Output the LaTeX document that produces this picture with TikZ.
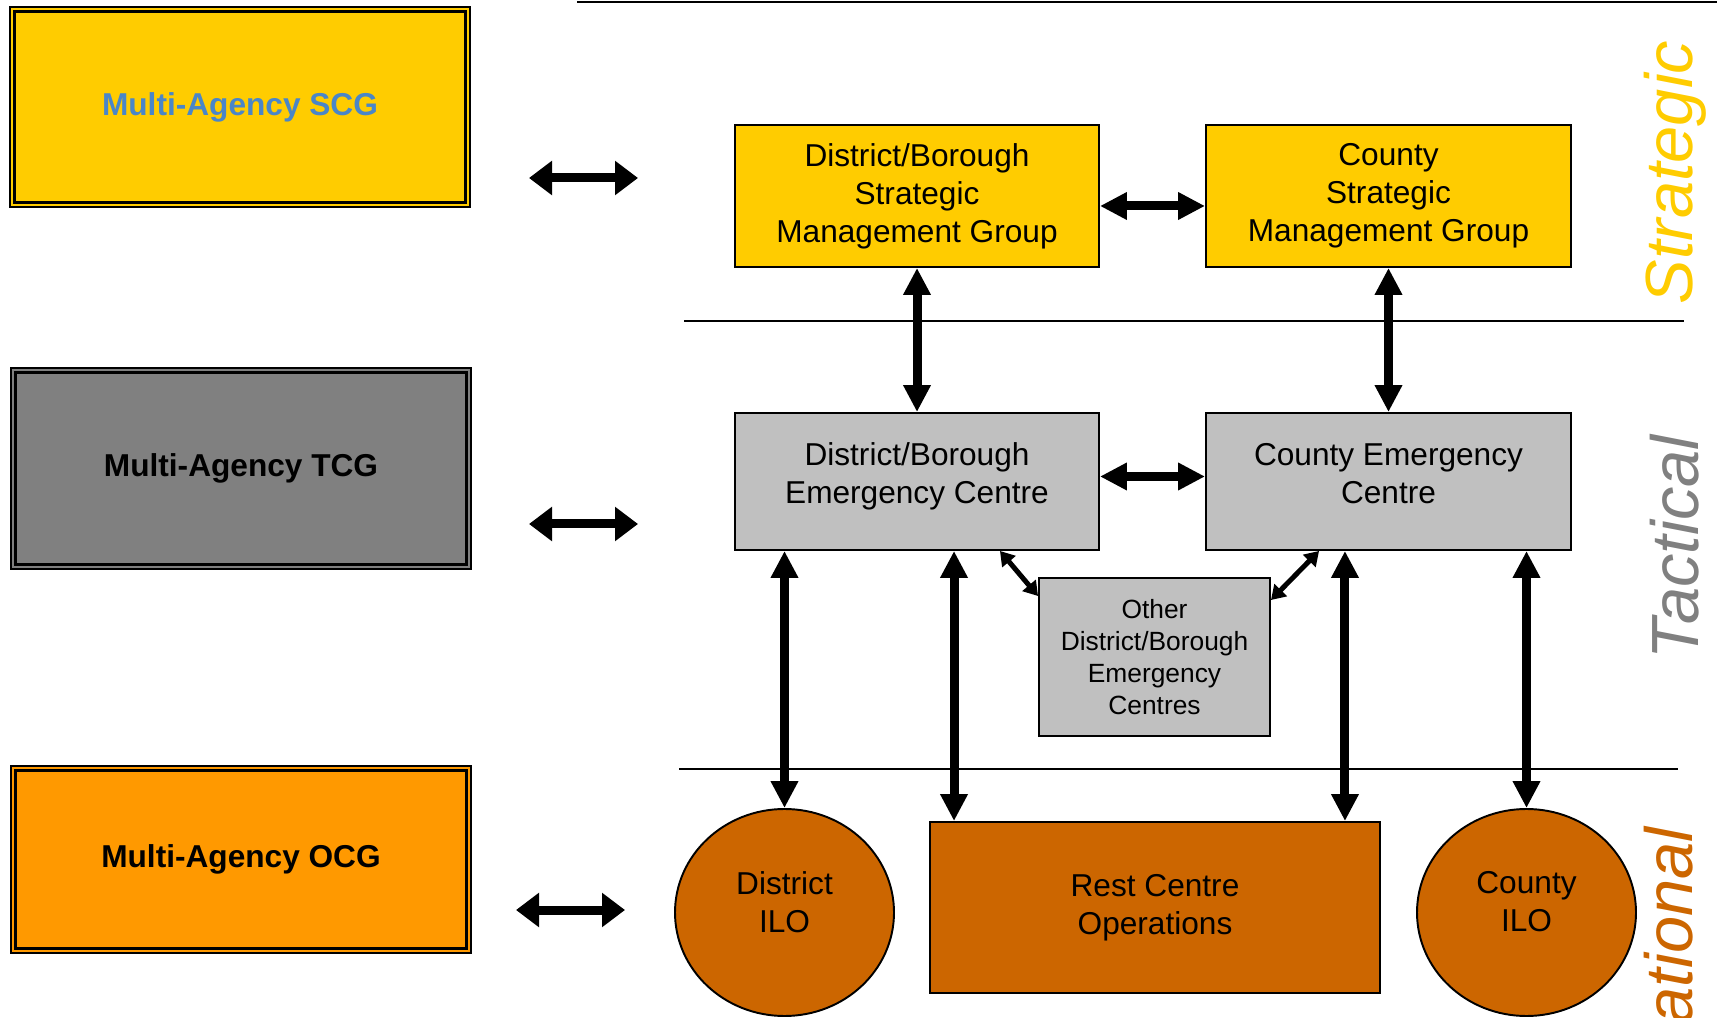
\documentclass[tikz,border=0pt]{standalone}
\usepackage{fontspec}
\setmainfont{Liberation Sans}
\usetikzlibrary{arrows.meta,shapes.geometric}
\definecolor{stratyellow}{HTML}{FFCC00}
\definecolor{scgblue}{HTML}{4A86C8}
\definecolor{tacgray}{HTML}{808080}
\definecolor{tacsilver}{HTML}{C0C0C0}
\definecolor{ocgorange}{HTML}{FF9900}
\definecolor{opsbrown}{HTML}{CC6600}
\begin{document}
\begin{tikzpicture}[x=0.2mm,y=-0.2mm,
        tier/.style={rectangle,draw=black,line width=0.9pt,inner sep=0pt,
          minimum width=92mm,font=\fontsize{18}{21.6}\selectfont\bfseries},
        box/.style={rectangle,draw=black,line width=1.1pt,inner sep=0pt,
          align=center,font=\fontsize{18}{21.6}\selectfont},
        ilo/.style={ellipse,draw=black,line width=1.1pt,fill=opsbrown,inner sep=0pt,
          minimum width=43.8mm,minimum height=41.4mm,align=center,text depth=4.3mm,
          font=\fontsize{18}{21.6}\selectfont},
        level/.style={rotate=90,inner sep=0pt,font=\fontsize{38}{40}\selectfont\itshape},
        sidearrow/.style={{Triangle[length=4.6mm,width=6.6mm]}-{Triangle[length=4.6mm,width=6.6mm]},
          line width=1.8mm},
        link/.style={{Triangle[length=5.4mm,width=5.2mm]}-{Triangle[length=5.4mm,width=5.2mm]},
          line width=1.8mm},
        small/.style={{Triangle[length=2.8mm,width=3.4mm]}-{Triangle[length=2.8mm,width=3.4mm]},
          line width=1mm}]
      \path[use as bounding box,clip] (0,0) rectangle (1717,1018);
      \draw[line width=1.1pt] (577,2) -- (1717,2);
      \draw[line width=1.1pt] (684,321) -- (1684,321);
      \draw[line width=1.1pt] (679,769) -- (1678,769);
      \node (scg) at (240,107) [tier,fill=stratyellow,minimum height=40mm,text=scgblue] {Multi-Agency SCG};
      \node (tcg) at (241,468.5) [tier,fill=tacgray,minimum height=40.2mm] {Multi-Agency TCG};
      \node (ocg) at (241,859.5) [tier,fill=ocgorange,minimum height=37.4mm] {Multi-Agency OCG};
      \foreach \n in {scg,tcg,ocg}
        \draw[line width=1.9pt] ([shift={(1mm,-1mm)}]\n.north west) rectangle ([shift={(-1mm,1mm)}]\n.south east);
      \coordinate (scgA) at (529,178);
      \coordinate (scgB) at (638,178);
      \coordinate (tcgA) at (529,524);
      \coordinate (tcgB) at (638,524);
      \coordinate (ocgA) at (516,910);
      \coordinate (ocgB) at (625,910);
      \draw (scgA) edge[sidearrow] (scgB);
      \draw (tcgA) edge[sidearrow] (tcgB);
      \draw (ocgA) edge[sidearrow] (ocgB);
      \node (dbsmg) at (917,196) [box,fill=stratyellow,minimum width=72.8mm,minimum height=28.4mm] {District/Borough\\Strategic\\Management Group};
      \node (csmg) at (1388.5,196) [box,fill=stratyellow,minimum width=73mm,minimum height=28.4mm] {County\\Strategic\\Management Group};
      \node (dbec) at (917,481.5) [box,fill=tacsilver,minimum width=72.8mm,minimum height=27.4mm,text depth=3.2mm] {District/Borough\\Emergency Centre};
      \node (cec) at (1388.5,481.5) [box,fill=tacsilver,minimum width=73mm,minimum height=27.4mm,text depth=3.2mm] {County Emergency\\Centre};
      \node (odbec) at (1154.5,657) [box,fill=tacsilver,minimum width=46.2mm,minimum height=31.6mm,
        font=\fontsize{15}{18.2}\selectfont] {Other\\District/Borough\\Emergency\\Centres};
      \node (dilo) at (784.5,912.5) [ilo] {District\\ILO};
      \node (rco) at (1155,907.5) [box,fill=opsbrown,minimum width=90mm,minimum height=34.2mm] {Rest Centre\\Operations};
      \node (cilo) at (1526.5,912.5) [ilo] {County\\ILO};
      \coordinate (rcoL) at ([xshift=5mm]rco.north west);
      \coordinate (rcoR) at ([xshift=-7.2mm]rco.north east);
      \draw ([yshift=-2mm]dbsmg.east) edge[link] ([yshift=-2mm]csmg.west);
      \draw ([yshift=1mm]dbec.east) edge[link] ([yshift=1mm]cec.west);
      \draw (dbsmg) edge[link] (dbec);
      \draw (csmg) edge[link] (cec);
      \draw (dilo.north |- dbec.south) edge[link] (dilo.north);
      \draw (rcoL |- dbec.south) edge[link] (rcoL);
      \draw (rcoR |- cec.south) edge[link] (rcoR);
      \draw (cilo.north |- cec.south) edge[link] (cilo.north);
      \draw ([xshift=-20mm]dbec.south east) edge[small] ([yshift=-3.8mm]odbec.north west);
      \draw ([xshift=22.8mm]cec.south west) edge[small] ([yshift=-4.6mm]odbec.north east);
      \node (strat) at (1675,172.5) [level,text=stratyellow] {Strategic};
      \node (tact) at (1675,547.5) [level,text=tacgray] {Tactical};
      \node (oper) at (1675,827) [level,anchor=east,text=opsbrown] {Operational};
\end{tikzpicture}
\end{document}
